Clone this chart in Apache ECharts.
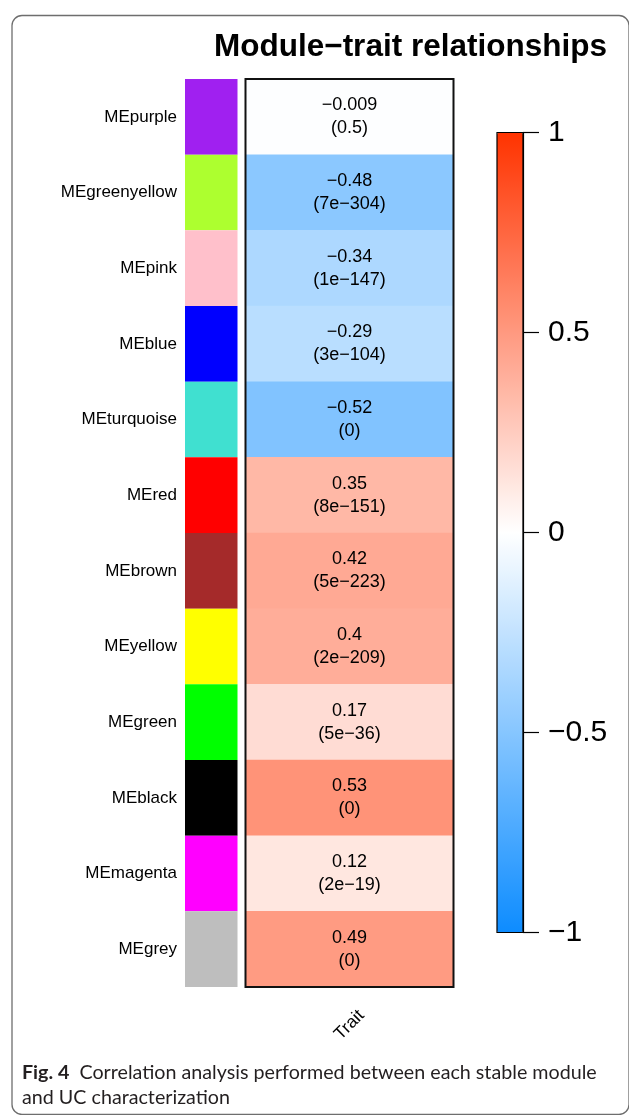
<!DOCTYPE html>
<html>
<head>
<meta charset="utf-8">
<script src="https://cdn.jsdelivr.net/npm/echarts@6/dist/echarts.min.js"></script>
<style>
html,body{margin:0;padding:0;background:#fff;}
#c{width:629px;height:1115px;}
</style>
</head>
<body>
<div id="c"></div>
<script>
// ---- data ----
const modules = ['MEpurple','MEgreenyellow','MEpink','MEblue','MEturquoise','MEred','MEbrown','MEyellow','MEgreen','MEblack','MEmagenta','MEgrey'];
const swatchColors = ['#A020F0','#ADFF2F','#FFC0CB','#0000FF','#40E0D0','#FF0000','#A52A2A','#FFFF00','#00FF00','#000000','#FF00FF','#BEBEBE'];
const traits = ['Trait'];
const corrValues = [-0.009, -0.48, -0.34, -0.29, -0.52, 0.35, 0.42, 0.4, 0.17, 0.53, 0.12, 0.49];
const corrLabels = ['\u22120.009','\u22120.48','\u22120.34','\u22120.29','\u22120.52','0.35','0.42','0.4','0.17','0.53','0.12','0.49'];
const pLabels = ['0.5','7e\u2212304','1e\u2212147','3e\u2212104','0','8e\u2212151','5e\u2212223','2e\u2212209','5e\u221236','0','2e\u221219','0'];
const colorbarTicks = [-1, -0.5, 0, 0.5, 1];
const colorbarTickLabels = ['\u22121', '\u22120.5', '0', '0.5', '1'];

const FONT = '"Liberation Sans", Arial, Helvetica, sans-serif';
const CAPFONT = 'Lato, "Open Sans", sans-serif';
const chart = echarts.init(document.getElementById('c'), null, {renderer: 'canvas'});

const heatData = corrValues.map((v, i) => [0, i, v]);
const swatchData = swatchColors.map(c => ({value: 1, itemStyle: {color: c}}));

const option = {
  backgroundColor: '#fff',
  animation: false,
  title: {
    text: 'Module\u2212trait relationships',
    left: 214, top: 31, padding: 0,
    textStyle: {fontFamily: FONT, fontWeight: 'bold', fontSize: 31.5, color: '#000'}
  },
  grid: [
    {left: 185, top: 79, width: 52.5, height: 908, show: false},
    {left: 245.5, top: 79, width: 208, height: 908, show: true, borderColor: '#111', borderWidth: 2, backgroundColor: 'transparent', z: 3},
    {left: 497, top: 132.5, width: 26, height: 800, show: true, borderColor: '#000', borderWidth: 1.2, backgroundColor: 'transparent', z: 6}
  ],
  xAxis: [
    {gridIndex: 0, type: 'value', min: 0, max: 1, show: false},
    {gridIndex: 1, type: 'category', data: traits, position: 'bottom',
      axisLine: {show: false}, axisTick: {show: false}, splitLine: {show: false},
      axisLabel: {rotate: 45, align: 'center', verticalAlign: 'middle', margin: 38,
        fontFamily: FONT, fontSize: 17.5, color: '#000'}},
    {gridIndex: 2, type: 'value', min: 0, max: 1, show: false}
  ],
  yAxis: [
    {gridIndex: 0, type: 'category', data: modules, inverse: true,
      axisLine: {show: false}, axisTick: {show: false}, splitLine: {show: false},
      axisLabel: {margin: 8, fontFamily: FONT, fontSize: 17, color: '#000'}},
    {gridIndex: 1, type: 'category', data: modules, inverse: true, show: false},
    {gridIndex: 2, type: 'value', min: -1, max: 1, interval: 0.5, position: 'right', z: 7,
      axisLine: {show: true, onZero: false, lineStyle: {color: '#000', width: 1.2}},
      splitLine: {show: false},
      axisTick: {show: true, inside: false, length: 16, lineStyle: {color: '#000', width: 1.2}},
      axisLabel: {margin: 25, fontFamily: FONT, fontSize: 30, color: '#000',
        formatter: v => {
          const k = colorbarTicks.findIndex(t => Math.abs(t - v) < 1e-9);
          return k >= 0 ? colorbarTickLabels[k] : '';
        }}}
  ],
  visualMap: {
    type: 'continuous', seriesIndex: 1, min: -1, max: 1,
    calculable: false, hoverLink: false, realtime: false,
    orient: 'vertical', left: 497, top: 132.5, padding: 0,
    itemWidth: 26, itemHeight: 800, text: null, showLabel: false,
    inRange: {color: ['#0D8CFF', '#FFFFFF', '#FF3300']},
    textStyle: {color: 'transparent'}
  },
  series: [
    {type: 'bar', xAxisIndex: 0, yAxisIndex: 0, data: swatchData,
      barWidth: '100%', barCategoryGap: '0%', silent: true},
    {type: 'heatmap', xAxisIndex: 1, yAxisIndex: 1, data: heatData,
      itemStyle: {borderWidth: 0},
      emphasis: {disabled: true},
      label: {show: true, color: '#000', fontFamily: FONT, fontSize: 18, lineHeight: 23,
        formatter: p => corrLabels[p.dataIndex] + '\n(' + pLabels[p.dataIndex] + ')'}}
  ],
  graphic: [
    {type: 'rect', left: 9.5, top: 13, z: -10, silent: true,
      shape: {width: 617, height: 1099, r: 10},
      style: {fill: 'none', stroke: '#6e6e6e', lineWidth: 1.3}},
    {type: 'text', left: 22, top: 1060, silent: true,
      style: {
        text: '{b|Fig. 4}  Correlation analysis performed between each stable module\nand UC characterization',
        font: '19.7px ' + CAPFONT, fill: '#231f20', lineHeight: 25,
        rich: {b: {fontWeight: 'bold', fontSize: 19.7, fontFamily: CAPFONT, fill: '#231f20', lineHeight: 25}}
      }}
  ]
};
chart.setOption(option);
</script>
</body>
</html>
